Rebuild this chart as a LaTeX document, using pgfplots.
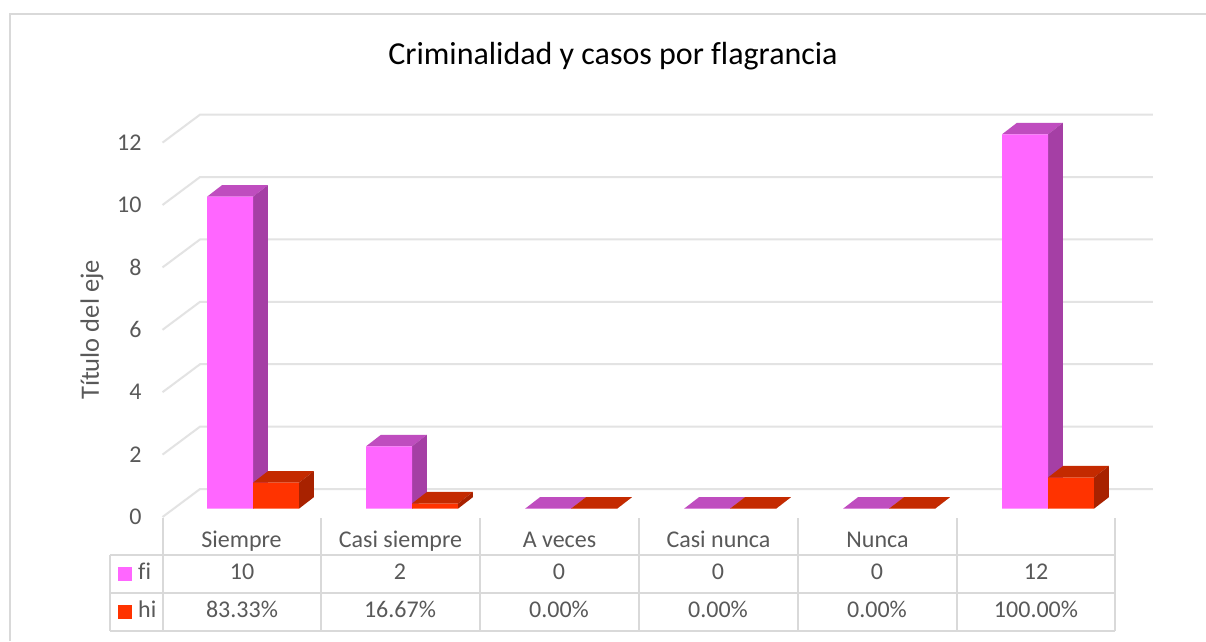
\documentclass[border=0pt]{standalone}
\usepackage{fontspec}
\setmainfont[Ligatures={TeX,NoCommon}]{Carlito}
\usepackage{pgfplots}
\usepackage{pgfplotstable}
\pgfplotsset{compat=1.18}

\definecolor{fitop}{HTML}{BF4DBF}
\definecolor{fifront}{HTML}{FF66FF}
\definecolor{fiside}{HTML}{A53FA5}
\definecolor{hitop}{HTML}{C42A00}
\definecolor{hifront}{HTML}{FF3300}
\definecolor{hiside}{HTML}{A82200}
\definecolor{gridc}{HTML}{E3E3E3}
\definecolor{tablec}{HTML}{D9D9D9}
\definecolor{textc}{HTML}{595959}

\pgfplotstableread{
x fi hi
0 10 0.8333
1 2 0.1667
2 0 0
3 0 0
4 0 0
5 12 1
}\datatable

% top and side faces of a bar: left x, right x, value, top colour, side colour
\newcommand{\depthfaces}[5]{%
  \pgfmathsetmacro\xl{#1+0.094}%
  \pgfmathsetmacro\xr{#2+0.094}%
  \pgfmathsetmacro\yt{#3+0.37}%
  \edef\tmp{\noexpand\addplot[fill=#4,draw=none,forget plot] coordinates {(#1,#3)(#2,#3)(\xr,\yt)(\xl,\yt)} -- cycle;
    \noexpand\addplot[fill=#5,draw=none,forget plot] coordinates {(#2,0)(#2,#3)(\xr,\yt)(\xr,0.37)} -- cycle;}%
  \tmp}

\begin{document}
\begin{tikzpicture}[x=1pt,y=1pt]
\fill[white] (0,0) rectangle (1206,641);
\path[use as bounding box] (0,0) rectangle (1206,641);
\begin{axis}[
  at={(253pt,132.3pt)}, anchor=origin,
  x=159pt, y=31.2pt,
  xmin=-0.70, xmax=5.66,
  ymin=-0.3, ymax=13,
  clip=false,
  axis line style={draw=none},
  major tick length=0pt,
  tick style={draw=none},
  ytick={0,2,...,12},
  xtick={0,...,5},
  xticklabels={Siempre,Casi siempre,A veces,Casi nunca,Nunca,{}},
  /pgf/number format/assume math mode=true,
  ticklabel style={font=\fontsize{24}{26}\selectfont, text=textc},
  yticklabel style={inner sep=0pt, yshift=-8pt},
  xticklabel style={inner sep=0pt, xshift=-11.5pt, yshift=-13pt, text height=16pt, text depth=5pt},
]
% walls
\addplot[gridc,line width=2pt,forget plot] coordinates {(-0.569,-0.266)(-0.333,0.631)(5.66,0.631)};
\addplot[gridc,line width=2pt,forget plot] coordinates {(-0.569,1.734)(-0.333,2.631)(5.66,2.631)};
\addplot[gridc,line width=2pt,forget plot] coordinates {(-0.569,3.734)(-0.333,4.631)(5.66,4.631)};
\addplot[gridc,line width=2pt,forget plot] coordinates {(-0.569,5.734)(-0.333,6.631)(5.66,6.631)};
\addplot[gridc,line width=2pt,forget plot] coordinates {(-0.569,7.734)(-0.333,8.631)(5.66,8.631)};
\addplot[gridc,line width=2pt,forget plot] coordinates {(-0.569,9.734)(-0.333,10.631)(5.66,10.631)};
\addplot[gridc,line width=2pt,forget plot] coordinates {(-0.569,11.734)(-0.333,12.631)(5.66,12.631)};
% bars
\depthfaces{-0.289}{0}{10}{fitop}{fiside}
\depthfaces{0.711}{1}{2}{fitop}{fiside}
\depthfaces{1.711}{2}{0}{fitop}{fiside}
\depthfaces{2.711}{3}{0}{fitop}{fiside}
\depthfaces{3.711}{4}{0}{fitop}{fiside}
\depthfaces{4.711}{5}{12}{fitop}{fiside}
\addplot[ybar,bar width=0.289,bar shift=-0.1445,fill=fifront,draw=none] table[x=x,y=fi] {\datatable};
\depthfaces{0}{0.289}{0.8333}{hitop}{hiside}
\depthfaces{1}{1.289}{0.1667}{hitop}{hiside}
\depthfaces{2}{2.289}{0}{hitop}{hiside}
\depthfaces{3}{3.289}{0}{hitop}{hiside}
\depthfaces{4}{4.289}{0}{hitop}{hiside}
\depthfaces{5}{5.289}{1}{hitop}{hiside}
\addplot[ybar,bar width=0.289,bar shift=0.1445,fill=hifront,draw=none] table[x=x,y=hi] {\datatable};
\end{axis}
% frame, title and data table, in pixel positions
\begin{scope}[yshift=641pt,y=-1pt]
\draw[tablec,line width=1.5pt] (10,641) -- (10,14) -- (1206,14);
\node[text=black,font=\fontsize{32}{35}\selectfont] at (613,56) {Criminalidad y casos por flagrancia};
\node[text=textc,rotate=90,font=\fontsize{26.5}{29}\selectfont] at (92,330) {Título del eje};
\draw[tablec,line width=1.5pt]
  (110,555) -- (1115,555) (110,593) -- (1115,593) (110,631) -- (1115,631)
  (110,555) -- (110,631) (163,518) -- (163,631) (321,518) -- (321,631)
  (480,518) -- (480,631) (639,518) -- (639,631) (798,518) -- (798,631)
  (957,518) -- (957,631) (1115,518) -- (1115,631);
\fill[fifront] (118,567) rectangle (132,581);
\fill[hifront] (118,605) rectangle (132,619);
\begin{scope}[every node/.style={text=textc,font=\fontsize{24}{26}\selectfont,text height=15pt,text depth=5pt,inner sep=0pt}]
\node[anchor=west] at (138,574) {fi};
\node[anchor=west] at (138,612) {hi};
\node at (242,574) {10};
\node at (400,574) {2};
\node at (559,574) {0};
\node at (718,574) {0};
\node at (877,574) {0};
\node at (1036,574) {12};
\node at (242,612) {83.33\%};
\node at (400,612) {16.67\%};
\node at (559,612) {0.00\%};
\node at (718,612) {0.00\%};
\node at (877,612) {0.00\%};
\node at (1036,612) {100.00\%};
\end{scope}
\end{scope}
\end{tikzpicture}
\end{document}
